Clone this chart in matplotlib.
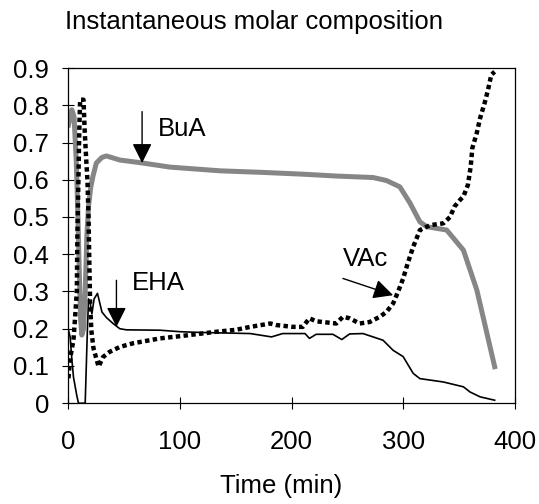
import matplotlib
matplotlib.use('Agg')
import matplotlib.pyplot as plt

plt.rcParams['font.family'] = ['Liberation Sans', 'DejaVu Sans']

# BuA (grey thick line)
t_bua = [0, 3, 5, 7, 8.5, 10, 11, 12, 13.5, 15, 16.5, 18, 20, 22, 25, 30, 34, 46, 64, 91,
         136, 172, 210, 240, 273, 285, 297, 306, 315, 321, 339, 354, 366, 371, 382]
y_bua = [0.747, 0.788, 0.77, 0.65, 0.5, 0.32, 0.22, 0.183, 0.2, 0.3, 0.45, 0.53, 0.58, 0.61, 0.645, 0.66, 0.664, 0.653, 0.646, 0.634,
         0.624, 0.62, 0.615, 0.61, 0.606, 0.598, 0.581, 0.538, 0.487, 0.474, 0.465, 0.411, 0.304, 0.24, 0.098]

# VAc (black dotted)
t_vac = [0, 1.5, 4.5, 6, 7.5, 8, 8.5, 9, 9.5, 10, 10.5, 13.5, 14.5, 16, 17, 18, 18.5, 19.4, 20.5, 22.4,
         27, 31, 37, 46, 58, 82, 100, 133, 150, 163, 181, 186, 201, 210, 216, 222, 240, 246, 252,
         261, 270, 279, 285, 291, 295.5, 300, 304, 309, 315, 324, 336, 342, 346, 351, 354, 358,
         360.5, 362, 366, 369, 373, 376, 379, 382]
y_vac = [0.067, 0.12, 0.17, 0.232, 0.3, 0.45, 0.53, 0.61, 0.7, 0.77, 0.815, 0.815, 0.735, 0.65, 0.6, 0.5, 0.41, 0.27, 0.196, 0.148,
         0.098, 0.124, 0.138, 0.151, 0.161, 0.174, 0.18, 0.192, 0.197, 0.205, 0.214, 0.21, 0.205, 0.205, 0.228, 0.22, 0.214, 0.232, 0.228,
         0.214, 0.218, 0.232, 0.245, 0.268, 0.3, 0.335, 0.375, 0.42, 0.465, 0.478, 0.483, 0.5, 0.528, 0.546, 0.555, 0.586,
         0.635, 0.685, 0.726, 0.766, 0.806, 0.841, 0.882, 0.89]

# EHA (thin black)
t_eha = [0, 1.5, 3, 4.5, 7.5, 9, 15, 16, 17, 18, 19.5, 21, 23, 26, 28, 30, 34, 40, 46, 52, 82, 100, 118,
         148, 163, 182, 192, 212, 216, 222, 237, 245, 252, 264, 273, 282, 291, 300, 309, 315, 336, 354, 360, 369, 382]
y_eha = [0.196, 0.178, 0.12, 0.07, 0.02, 0.0, 0.0, 0.1, 0.2, 0.28, 0.27, 0.24, 0.28, 0.295, 0.27, 0.245, 0.23, 0.214, 0.2, 0.197, 0.196, 0.192, 0.19,
         0.188, 0.187, 0.178, 0.187, 0.187, 0.174, 0.185, 0.185, 0.171, 0.186, 0.187, 0.178, 0.169, 0.142, 0.125, 0.08, 0.066, 0.057, 0.044, 0.03, 0.017, 0.008]

xticks = [0, 100, 200, 300, 400]
yticks = [0, 0.1, 0.2, 0.3, 0.4, 0.5, 0.6, 0.7, 0.8, 0.9]
ylabels = ['0', '0.1', '0.2', '0.3', '0.4', '0.5', '0.6', '0.7', '0.8', '0.9']

fs = 18.5

fig = plt.figure(figsize=(5.39, 5.04), dpi=100)
ax = fig.add_axes([0.127, 0.2, 0.828, 0.665])

ax.plot(t_bua, y_bua, color='#868686', lw=3.6, solid_joinstyle='round')
ax.plot(t_vac, y_vac, color='black', lw=3.2, dashes=(1.0, 0.75))
ax.plot(t_eha, y_eha, color='black', lw=1.2)

arrow = dict(arrowstyle='-|>,head_length=0.4,head_width=0.2', color='black', lw=1,
             mutation_scale=30, shrinkA=0, shrinkB=0)
ax.annotate('', xy=(66, 0.645), xytext=(66, 0.783), arrowprops=arrow)
ax.annotate('', xy=(43, 0.205), xytext=(43, 0.33), arrowprops=arrow)
ax.annotate('', xy=(291, 0.29), xytext=(246, 0.335), arrowprops=arrow)
ax.text(80, 0.735, 'BuA', fontsize=fs, va='center')
ax.text(57, 0.323, 'EHA', fontsize=fs, va='center')
ax.text(246, 0.387, 'VAc', fontsize=fs, va='center')

ax.set_xlim(0, 400)
ax.set_ylim(0, 0.9)
ax.set_xticks(xticks)
ax.set_yticks(yticks)
ax.set_yticklabels(ylabels)
ax.tick_params(direction='inout', length=8, width=0.8, labelsize=fs)
ax.tick_params(axis='y', pad=10)
ax.tick_params(axis='x', pad=15)
for s in ax.spines.values():
    s.set_linewidth(0.9)

fig.text(0.472, 0.9425, 'Instantaneous molar composition', fontsize=fs, ha='center', va='baseline')
fig.text(0.521, 0.022, 'Time (min)', fontsize=fs, ha='center', va='baseline')

fig.savefig('out.png', dpi=100)
